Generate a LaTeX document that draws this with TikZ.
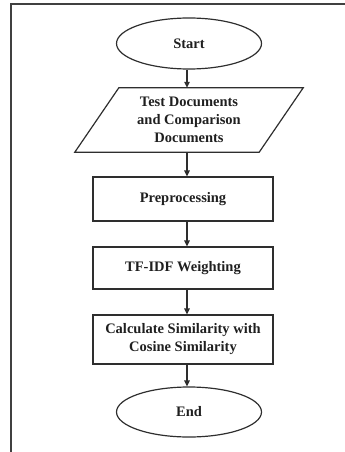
\documentclass[tikz,border=0pt]{standalone}
\usepackage{fontspec}
\setmainfont{Liberation Serif}
\usetikzlibrary{shapes.geometric,arrows.meta,calc}
\tikzset{
  every node/.style={font=\fontsize{14.5}{18}\selectfont\bfseries, text=black!88, align=center},
  lineclr/.style={draw=black!82, line width=1.2pt},
  term/.style={ellipse, lineclr, minimum width=145pt, minimum height=51pt, inner sep=0pt},
  iobody/.style={rectangle, draw=none, minimum width=184pt, minimum height=64pt, inner sep=0pt},
  procbox/.style={rectangle, lineclr, minimum width=180pt, inner sep=0pt},
  flow/.style={lineclr, -{Triangle[length=6pt,width=5.5pt]}}
}
\begin{document}
\begin{tikzpicture}[x=1pt,y=-1pt]
\useasboundingbox (0,0) rectangle (345,452);
\draw[draw=black!75, line width=1.6pt] (11,452) -- (11,4) -- (345,4);
\coordinate (axis) at (187,0);
\node[term] (start) at (189,43.5) {Start};
\node[iobody] (para) at (189,120) {Test Documents\\and Comparison\\Documents};
\draw[lineclr, line join=miter] ($(para.north west)+(22,0)$) -- ($(para.north east)+(22,0)$)
  -- ($(para.south east)+(-22,0)$) -- ($(para.south west)+(-22,0)$) -- cycle;
\node[procbox, minimum height=44pt] (pre) at (183,199) {Preprocessing};
\node[procbox, minimum height=42pt] (tfidf) at (183,268) {TF-IDF Weighting};
\node[procbox, minimum height=49pt] (calc) at (183,339.5) {Calculate Similarity with\\Cosine Similarity};
\node[term, minimum height=50pt] (end) at (189,412) {End};
\draw[flow] (start.south -| axis) -- (para.north -| axis);
\draw[flow] (para.south -| axis) -- (pre.north -| axis);
\draw[flow] (pre.south -| axis) -- (tfidf.north -| axis);
\draw[flow] (tfidf.south -| axis) -- (calc.north -| axis);
\draw[flow] (calc.south -| axis) -- (end.north -| axis);
\end{tikzpicture}
\end{document}
